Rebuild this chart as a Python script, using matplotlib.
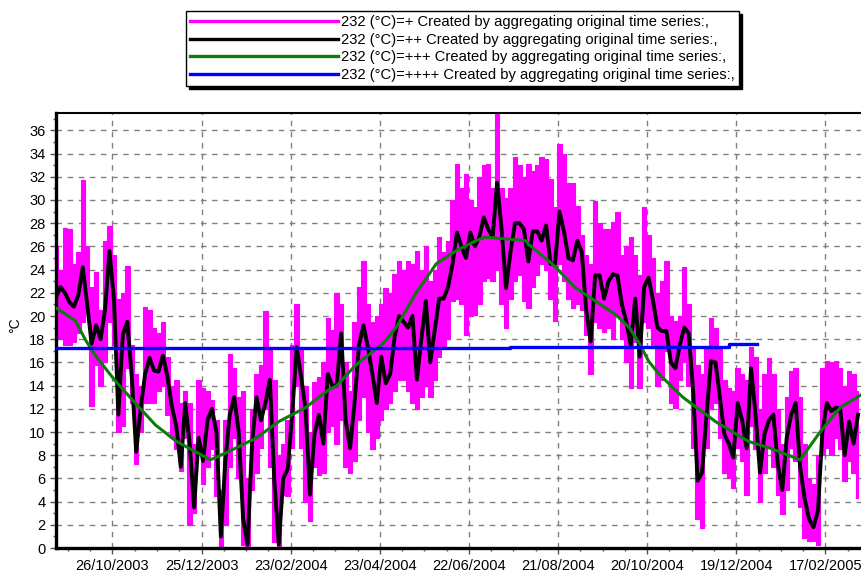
import matplotlib
matplotlib.use("Agg")
import matplotlib.pyplot as plt
import matplotlib.dates as mdates
from matplotlib.lines import Line2D
from matplotlib.ticker import MultipleLocator, FixedLocator
import numpy as np
from datetime import datetime

plt.rcParams['font.family'] = ['Liberation Sans', 'DejaVu Sans']

# sampled every 3 days from the start date
start_date = "2003-09-18"
step_days = 3

daily_mean = [
    21.6, 22.5, 22.0, 21.2, 20.8, 21.8, 24.2, 21.0, 17.6, 19.2, 18.0, 20.5, 25.6, 21.5, 11.5, 18.4,
    19.5, 14.8, 8.3, 12.0, 15.0, 16.4, 15.3, 15.2, 16.6, 14.8, 12.2, 10.5, 7.0, 12.5, 9.0, 3.5,
    9.5, 7.5, 11.0, 12.0, 10.0, 1.0, 7.5, 11.5, 13.0, 10.0, 2.5, 0.3, 9.0, 13.0, 11.0, 12.5,
    14.5, 5.8, 0.3, 6.0, 6.8, 11.5, 17.3, 14.8, 12.0, 4.6, 9.8, 11.5, 9.0, 15.0, 14.0,
    14.0, 18.5, 11.0, 8.6, 12.5, 17.5, 19.2, 17.3, 15.0, 12.5, 16.5, 14.2, 15.0, 18.2, 20.0, 19.5,
    19.0, 20.0, 14.5, 18.0, 21.3, 16.0, 18.8, 21.5, 21.5, 22.5, 24.5, 27.2, 26.0, 25.0, 27.2, 26.0,
    26.8, 28.5, 27.5, 26.8, 31.5, 27.5, 22.4, 25.5, 28.0, 28.0, 27.5, 24.7, 27.3, 27.3, 26.5, 27.8,
    24.5, 24.5, 29.0, 27.3, 25.0, 24.8, 26.5, 25.5, 20.5, 17.8, 23.5, 23.5, 21.5, 23.0, 23.6,
    23.5, 21.0, 19.5, 17.5, 21.5, 16.5, 22.5, 23.3, 21.3, 19.0, 18.7, 18.7, 16.0, 15.5, 17.5, 19.0,
    18.5, 13.5, 5.8, 6.5, 11.5, 16.1, 16.0, 13.0, 9.8, 9.0, 7.8, 12.5, 11.0, 8.6, 15.5, 11.5,
    6.5, 9.8, 11.0, 11.5, 7.2, 5.0, 9.5, 11.5, 12.5, 7.0, 4.3, 2.5, 1.8, 3.2, 10.0, 12.5,
    11.8, 12.1, 12.0, 8.0, 10.9, 9.0, 11.5,
]

hourly_max = [
    26, 24, 27.6, 27.5, 24.5, 25.5, 31.7, 26, 22.5, 23.8, 20.5, 26.5, 27.8, 25.3, 21.5, 22,
    24.3, 17.5, 15, 14, 20.8, 20.5, 19, 18.5, 19.5, 16.5, 14, 14.5, 12.5, 13.5, 12.5, 9,
    14.5, 13.8, 13.5, 12.8, 11, 5, 11, 16.7, 15.5, 13, 13.5, 6, 12, 15, 15.8, 20.4,
    17.3, 14.5, 8, 9, 11, 17.5, 21.0, 17.3, 14, 10, 14.3, 14.7, 16, 19.8, 18.8,
    22, 21, 16, 13.5, 19.5, 22.5, 24.7, 21, 19.5, 20, 21, 22.4, 22, 23.6, 24.7, 24,
    24.7, 24.5, 25.6, 24, 26, 23, 24, 26.8, 25.5, 26.5, 30, 33.1, 31, 32.2, 30, 29.4,
    32, 33, 33.1, 31, 37.4, 31, 30.2, 31, 33.7, 33, 32, 33.1, 32.5, 33, 33.7, 33.5,
    31.8, 29.4, 34.8, 34, 31.5, 31.5, 29.5, 27, 25.3, 24.5, 29.9, 28, 27.5, 27.5, 28.1,
    29, 25.3, 26, 26.8, 25.3, 23.5, 29.4, 27, 25, 22, 23, 24.7, 20, 19.6, 20, 24.2,
    21, 17.3, 15.8, 15, 17.3, 19.8, 19, 17.3, 14.5, 13.8, 13.5, 15.5, 15, 14.5, 17.3, 16.5,
    12, 15, 16.4, 15, 12, 9, 13, 15.3, 15.5, 13, 9, 6, 5.5, 8, 15.5, 16.1,
    16, 16.1, 15.5, 14, 15.3, 15, 13.5,
]

hourly_min = [
    18, 18, 17.5, 17.5, 17.8, 18.5, 19.5, 20.5, 12.2, 15.8, 14, 16, 19.5, 17.5, 10.0, 10.5,
    15.5, 12.5, 7.2, 10, 12.5, 12.5, 12.5, 13.5, 14, 11.5, 9.5, 8.5, 6.6, 9.5, 2.0, 3.0,
    8, 5.5, 7, 8.5, 4.5, 0, 2, 7, 9.5, 6, 0.3, 0, 5, 6.5, 8.6, 12,
    7, 0.5, 0, 4.6, 4.5, 8.6, 14, 8.6, 4, 2.3, 7, 6.3, 6.5, 10, 10.5,
    9, 11, 7, 6.5, 7.5, 11, 13, 10, 8.5, 9.5, 11, 12, 12.5, 13.5, 14.5, 14.5,
    13.5, 12.5, 12, 13, 14, 13, 14.5, 16.5, 17.3, 18, 21.3, 21.5, 21, 18.4, 20, 20.1,
    21, 23, 23.3, 23, 24, 21, 19, 21.5, 23, 23.5, 21.3, 20.7, 22.5, 23.5, 24.5, 24,
    21.5, 19.6, 24.5, 23, 21.5, 20.7, 21, 20.5, 18.4, 15, 19.5, 19, 18.6, 19, 18,
    20, 18, 16, 13.8, 17.8, 13.8, 19.5, 19, 17.5, 14, 14.5, 17, 12.5, 12.1, 14.5, 16,
    14, 8.6, 2.5, 1.7, 8.6, 12, 12.5, 9.5, 6.5, 6, 5.2, 8.6, 7.5, 4.6, 10.5, 8.5,
    4, 6.5, 8.6, 7, 4.6, 2.9, 5, 8.6, 7.5, 3.5, 0.9, 0.6, 0.6, 0.3, 8, 8.6,
    8, 9.5, 8.5, 5.8, 7.5, 6.5, 4.3,
]

monthly_dates = [
    "2003-09-18", "2003-10-01", "2003-10-08", "2003-10-15", "2003-10-28", "2003-11-11",
    "2003-11-24", "2003-12-08", "2003-12-21", "2003-12-31", "2004-01-12", "2004-01-31",
    "2004-02-15", "2004-03-04", "2004-03-18", "2004-03-25", "2004-04-07", "2004-04-25",
    "2004-05-04", "2004-05-17", "2004-05-31", "2004-06-13", "2004-06-27", "2004-07-03",
    "2004-07-30", "2004-08-01", "2004-08-17", "2004-09-02", "2004-09-15", "2004-09-29",
    "2004-10-08", "2004-10-15", "2004-10-21", "2004-10-28", "2004-11-13", "2004-12-05",
    "2004-12-27", "2005-01-11", "2005-01-31", "2005-02-14", "2005-02-27", "2005-03-13",
]
monthly_mean = [
    20.7, 19.6, 17.9, 16.5, 14.4, 12.4,
    10.6, 9.2, 8.3, 7.6, 8.3, 9.5,
    10.9, 12.1, 13.5, 14.0, 15.8, 17.6,
    19.0, 21.9, 24.5, 25.6, 26.5, 26.8,
    26.5, 26.2, 24.5, 22.4, 21.3, 20.1,
    19.0, 17.6, 16.1, 15.0, 13.0, 10.9,
    9.2, 8.6, 7.6, 10.1, 12.1, 13.2,
]

overall_dates = ["2003-09-18", "2004-07-20", "2004-12-14", "2005-01-02"]
overall_mean = [17.2, 17.35, 17.55, 17.55]

tick_labels = ["26/10/2003", "25/12/2003", "23/02/2004", "23/04/2004", "22/06/2004",
               "21/08/2004", "20/10/2004", "19/12/2004", "17/02/2005"]
x_end = "2005-03-13"

legend_labels = [
    "232 (°C)=+ Created by aggregating original time series:,",
    "232 (°C)=++ Created by aggregating original time series:,",
    "232 (°C)=+++ Created by aggregating original time series:,",
    "232 (°C)=++++ Created by aggregating original time series:,",
]
colors = ["#ff00ff", "#000000", "#0a7d0a", "#0000ff"]


def to_num(strings, fmt="%Y-%m-%d"):
    return mdates.date2num([datetime.strptime(s, fmt) for s in strings])


def main():
    t0 = mdates.date2num(datetime.strptime(start_date, "%Y-%m-%d"))
    x = t0 + np.arange(len(daily_mean)) * step_days

    fig = plt.figure(figsize=(8.61, 5.74), dpi=100)
    ax = fig.add_axes([56 / 861, 26 / 574, (861 - 56) / 861, 435 / 574])

    ax.fill_between(x, hourly_min, hourly_max, step="mid", color=colors[0],
                    edgecolor=colors[0], linewidth=0.8, zorder=2)
    ax.plot(x, daily_mean, color=colors[1], lw=2.8, zorder=3)
    ax.plot(to_num(monthly_dates), monthly_mean, color=colors[2], lw=2.2, zorder=4)
    ax.plot(to_num(overall_dates), overall_mean, color=colors[3], lw=2.4,
            drawstyle="steps-post", zorder=5)

    ticks = to_num(tick_labels, "%d/%m/%Y")
    ax.set_xlim(t0, to_num([x_end])[0])
    ax.set_ylim(0, 37.5)
    ax.xaxis.set_major_locator(FixedLocator(ticks))
    ax.set_xticklabels(tick_labels)
    ax.xaxis.set_minor_locator(FixedLocator(np.arange(ticks[0] - 45, ticks[-1] + 60, 15)))
    ax.yaxis.set_major_locator(MultipleLocator(2))
    ax.yaxis.set_minor_locator(MultipleLocator(1))
    ax.tick_params(axis="both", which="major", labelsize=10.5, length=4, width=1, color="#555555")
    ax.tick_params(axis="both", which="minor", length=2, width=1, color="#555555")
    ax.tick_params(axis="x", pad=4)

    ax.grid(True, which="major", color="#808080", linestyle=(0, (4, 4)), linewidth=1)
    ax.set_axisbelow(True)

    ax.spines["right"].set_visible(False)
    ax.spines["left"].set_linewidth(2.4)
    ax.spines["bottom"].set_linewidth(2.4)
    ax.spines["top"].set_linewidth(1.5)

    fig.text(15 / 861, 1 - 325 / 574, "°C", rotation=90, ha="center", va="center", fontsize=10)

    handles = [Line2D([], [], color=c, lw=2.4) for c in colors]
    leg = fig.legend(handles, legend_labels, loc="upper left",
                     bbox_to_anchor=(186 / 861, 1 - 11 / 574), bbox_transform=fig.transFigure,
                     fancybox=False, edgecolor="black", shadow={"color": "black", "alpha": 1},
                     fontsize=10.6, handlelength=10.0, handletextpad=0.25, labelspacing=0.24,
                     borderpad=0.3, borderaxespad=0, framealpha=1)
    leg.get_frame().set_linewidth(1.0)

    fig.savefig("out.png", dpi=100)


if __name__ == "__main__":
    main()
